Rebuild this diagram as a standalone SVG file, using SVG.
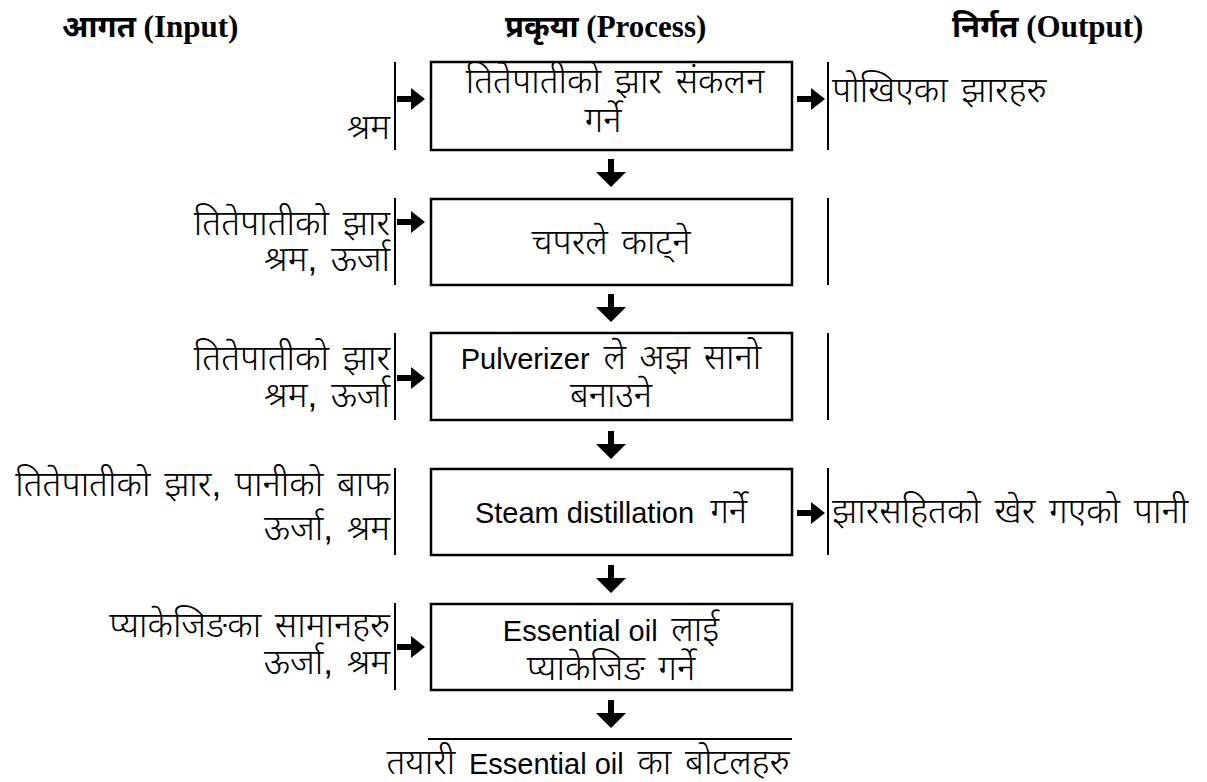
<svg xmlns="http://www.w3.org/2000/svg" width="1207" height="782" viewBox="0 0 1207 782">
<defs>
<style>
.hd{font-family:"Liberation Serif","Noto Sans",serif;font-weight:bold;font-size:31px;fill:#000}
.t{font-family:"Liberation Sans","Noto Sans",sans-serif;font-size:35px;font-weight:300;word-spacing:4px;fill:#000}
.l{font-size:29px;font-weight:normal;word-spacing:0}
.box{fill:#fff;stroke:#000;stroke-width:2.5}
.ln{stroke:#000;stroke-width:2;fill:none}
.arr{fill:#000;stroke:none}
</style>
<path id="ra" d="M0,-3 H14 V-11 L28,0 L14,11 V3 H0 Z"/>
<path id="da" d="M-3,0 H3 V13 H15 L0,28 L-15,13 H-3 Z"/>
</defs>
<rect width="1207" height="782" fill="#fff"/>

<g id="headers">
<text class="hd" x="62" y="37">आगत (Input)</text>
<text class="hd" x="505" y="37">प्रकृया (Process)</text>
<text class="hd" x="952" y="37">निर्गत (Output)</text>
</g>

<g id="connectors">
<line class="ln" x1="395" y1="62" x2="395" y2="150"/>
<line class="ln" x1="395" y1="198" x2="395" y2="285"/>
<line class="ln" x1="395" y1="333" x2="395" y2="420"/>
<line class="ln" x1="395" y1="468" x2="395" y2="555"/>
<line class="ln" x1="395" y1="603" x2="395" y2="690"/>
<line class="ln" x1="828" y1="62" x2="828" y2="150"/>
<line class="ln" x1="828" y1="198" x2="828" y2="285"/>
<line class="ln" x1="828" y1="333" x2="828" y2="420"/>
<line class="ln" x1="828" y1="468" x2="828" y2="555"/>
<line class="ln" x1="428" y1="739" x2="792" y2="739"/>
<use href="#ra" class="arr" x="397" y="99"/>
<use href="#ra" class="arr" x="397" y="222"/>
<use href="#ra" class="arr" x="397" y="378"/>
<use href="#ra" class="arr" x="397" y="647"/>
<use href="#ra" class="arr" x="797" y="99"/>
<use href="#ra" class="arr" x="797" y="513"/>
<use href="#da" class="arr" x="611" y="159"/>
<use href="#da" class="arr" x="611" y="294"/>
<use href="#da" class="arr" x="611" y="431"/>
<use href="#da" class="arr" x="611" y="565"/>
<use href="#da" class="arr" x="611" y="700"/>
</g>

<g id="n1">
<rect class="box" x="431" y="62" width="361" height="88"/>
<text class="t" x="615" y="93" text-anchor="middle">तितेपातीको झार संकलन</text>
<text class="t" x="603" y="132" text-anchor="middle">गर्ने</text>
</g>
<g id="n2">
<rect class="box" x="431" y="199" width="361" height="86"/>
<text class="t" x="611" y="254" text-anchor="middle">चपरले काट्ने</text>
</g>
<g id="n3">
<rect class="box" x="431" y="333" width="361" height="87"/>
<text class="t" x="611" y="369" text-anchor="middle"><tspan class="l">Pulverizer</tspan> ले अझ सानो</text>
<text class="t" x="611" y="407" text-anchor="middle">बनाउने</text>
</g>
<g id="n4">
<rect class="box" x="431" y="469" width="361" height="86"/>
<text class="t" x="611" y="523" text-anchor="middle"><tspan class="l">Steam distillation</tspan><tspan dx="16">गर्ने</tspan></text>
</g>
<g id="n5">
<rect class="box" x="431" y="604" width="361" height="86"/>
<text class="t" x="611" y="641" text-anchor="middle"><tspan class="l">Essential oil</tspan> लाई</text>
<text class="t" x="611" y="680" text-anchor="middle">प्याकेजिङ गर्ने</text>
</g>

<g id="in1"><text class="t" x="390" y="139" text-anchor="end">श्रम</text></g>
<g id="in2">
<text class="t" x="390" y="235" text-anchor="end">तितेपातीको झार</text>
<text class="t" x="390" y="271" text-anchor="end">श्रम, ऊर्जा</text>
</g>
<g id="in3">
<text class="t" x="390" y="370" text-anchor="end">तितेपातीको झार</text>
<text class="t" x="390" y="407" text-anchor="end">श्रम, ऊर्जा</text>
</g>
<g id="in4">
<text class="t" x="390" y="496" text-anchor="end">तितेपातीको झार, पानीको बाफ</text>
<text class="t" x="390" y="540" text-anchor="end">ऊर्जा, श्रम</text>
</g>
<g id="in5">
<text class="t" x="390" y="637" text-anchor="end">प्याकेजिङका सामानहरु</text>
<text class="t" x="390" y="674" text-anchor="end">ऊर्जा, श्रम</text>
</g>

<g id="out1"><text class="t" x="832" y="102">पोखिएका झारहरु</text></g>
<g id="out4"><text class="t" x="832" y="523">झारसहितको खेर गएको पानी</text></g>
<g id="out5"><text class="t" x="588" y="774" text-anchor="middle">तयारी <tspan class="l">Essential oil</tspan> का बोटलहरु</text></g>
</svg>
